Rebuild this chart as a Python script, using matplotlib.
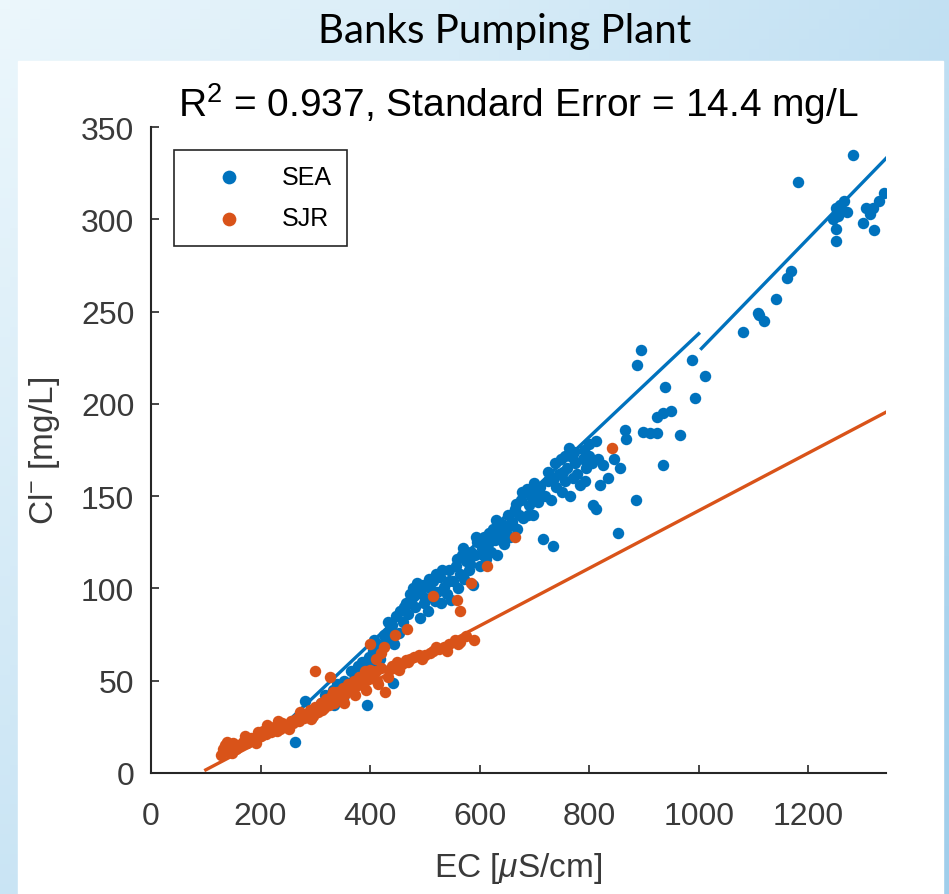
import numpy as np
import matplotlib
matplotlib.use("Agg")
import matplotlib.pyplot as plt
from matplotlib.patches import Rectangle

plt.rcParams['font.family'] = ['Liberation Sans', 'DejaVu Sans']
plt.rcParams['mathtext.fontset'] = 'custom'
plt.rcParams['mathtext.rm'] = 'Liberation Sans'
plt.rcParams['mathtext.it'] = 'Liberation Sans:italic'

# SEA points (EC uS/cm, Cl- mg/L)
sea_ec = [263, 281, 292, 300, 310, 318, 325, 332, 340, 345, 352, 358, 365, 372, 378,
          385, 390, 394, 398, 405, 410, 415, 420, 425, 430, 436, 442, 440, 448, 452,
          455, 460, 465, 470, 475, 478, 482, 488, 492, 496, 500, 505, 510, 514, 518,
          522, 527, 530, 535, 540, 545, 548, 552, 556, 560, 565, 568, 572, 576, 580,
          584, 588, 592, 596, 600, 604, 608, 612, 616, 620, 624, 628, 632, 636, 640,
          644, 648, 652, 656, 660, 664, 668, 672, 676, 680, 686, 690, 694, 698, 702,
          706, 710, 715, 720, 725, 730, 734, 736, 740, 745, 748, 750, 755, 756, 760,
          764, 765, 770, 772, 775, 783, 788, 790, 795, 800, 800, 807, 812, 813, 819,
          825, 835, 845, 852, 856, 865, 868, 886, 887, 895, 898, 911, 923, 923, 934,
          934, 938, 950, 965, 987, 994, 1011, 1080, 1108, 1111, 1120, 1142, 1162, 1169,
          1181, 1245, 1250, 1251, 1251, 1255, 1258, 1262, 1265, 1270, 1282, 1300, 1306,
          1312, 1318, 1321, 1330, 1339,
          462, 472, 486, 498, 508, 520, 532, 544, 558, 570, 582, 594, 606, 618, 630,
          642, 654, 666, 678, 688, 700, 712, 724, 738, 752, 768, 778, 792, 805, 816,
          380, 395, 408, 418, 432, 444, 350, 335, 368, 403]
sea_cl = [17, 39, 30, 35, 38, 42, 40, 45, 48, 44, 50, 47, 55, 52, 58,
          60, 55, 37, 63, 66, 60, 70, 68, 75, 72, 78, 49, 80, 85, 76,
          88, 82, 92, 86, 95, 100, 90, 98, 84, 102, 95, 88, 100, 104, 93,
          98, 106, 92, 101, 97, 110, 94, 104, 112, 100, 108, 118, 105, 115, 110,
          120, 102, 118, 125, 112, 122, 128, 116, 124, 120, 132, 126, 118, 130, 135,
          124, 132, 140, 128, 136, 143, 132, 140, 148, 138, 154, 145, 150, 140, 152,
          147, 155, 127, 150, 158, 148, 123, 160, 155, 162, 170, 152, 158, 172, 165,
          176, 150, 160, 174, 168, 156, 170, 175, 165, 172, 178, 145, 180, 143, 156,
          167, 160, 170, 130, 165, 186, 181, 148, 221, 229, 185, 184, 184, 193, 195,
          167, 209, 196, 183, 224, 203, 215, 239, 249, 248, 245, 257, 268, 272,
          320, 300, 306, 295, 288, 302, 308, 305, 310, 304, 335, 298, 306,
          303, 306, 294, 310, 314,
          90, 97, 103, 92, 105, 108, 110, 104, 116, 122, 113, 128, 118, 130, 137,
          128, 134, 146, 152, 140, 157, 150, 163, 168, 163, 171, 162, 158, 168, 170,
          48, 58, 72, 62, 82, 70, 40, 37, 50, 55]

# SJR points
sjr_ec = [128, 131, 135, 140, 145, 150, 155, 160, 168, 175, 182, 188, 195, 200, 205,
          210, 215, 220, 225, 230, 235, 240, 245, 250, 255, 260, 265, 270, 275, 280,
          285, 290, 295, 299, 300, 305, 310, 315, 320, 325, 327, 330, 335, 340, 345,
          350, 355, 360, 365, 370, 375, 380, 385, 390, 395, 400, 405, 410, 415, 420,
          428, 435, 440, 445, 450, 458, 465, 472, 480, 490, 500, 510, 515, 525, 535,
          545, 555, 565, 575, 467, 515, 558, 564, 585, 613, 664, 841, 400, 420, 445,
          138, 148, 172, 192, 212, 232, 252, 272, 292, 312, 332, 352, 372, 392, 412,
          432, 452, 470, 495, 520, 540, 560, 590, 410, 425]
sjr_cl = [10, 13, 15, 12, 14, 16, 13, 15, 17, 16, 19, 18, 22, 20, 23,
          21, 24, 22, 25, 23, 24, 27, 25, 26, 28, 27, 29, 28, 31, 30,
          32, 34, 31, 55, 36, 33, 38, 35, 40, 37, 52, 42, 38, 44, 41,
          46, 43, 48, 45, 50, 47, 52, 49, 55, 51, 56, 53, 55, 48, 57,
          44, 56, 58, 57, 60, 59, 61, 62, 63, 64, 64, 65, 66, 67, 68,
          70, 72, 71, 74, 78, 96, 94, 88, 103, 112, 128, 176, 70, 65, 75,
          17, 11, 20, 16, 26, 28, 24, 33, 29, 34, 44, 38, 42, 45, 50,
          52, 56, 60, 62, 68, 66, 70, 72, 62, 68]

# fitted lines (end points)
sea_fit1_ec = [250, 1000]
sea_fit1_cl = [28, 238]
sea_fit2_ec = [1005, 1342]
sea_fit2_cl = [230, 333]
sjr_fit_ec = [100, 1342]
sjr_fit_cl = [1.7, 195.5]

blue = '#0072BD'
orange = '#D95319'
txt = '#3a3a3a'

fig = plt.figure(figsize=(9.49, 8.95), dpi=100)

# slide background
bg = fig.add_axes([0, 0, 1, 1])
bg.axis('off')
u = np.linspace(0, 1, 95)[None, :]
v = np.linspace(0, 1, 90)[:, None]
t = 0.55 * u + 0.45 * v
c0 = np.array([236, 247, 252]) / 255
c1 = np.array([160, 206, 235]) / 255
img = c0 + (c1 - c0) * t[..., None]
bg.imshow(img, extent=[0, 1, 0, 1], aspect='auto')
bg.set_xlim(0, 1)
bg.set_ylim(0, 1)
bg.add_patch(Rectangle((18 / 949, 0), (943 - 18) / 949, 1 - 62 / 895, color='white'))
fig.text(505 / 949, 1 - 31 / 895, 'Banks Pumping Plant', ha='center', va='center',
         fontsize=29, family='Lato', color='black')

ax = fig.add_axes([151 / 949, 1 - 774 / 895, 735 / 949, 646 / 895])
ax.patch.set_alpha(0)
ax.scatter(sea_ec, sea_cl, s=68, color=blue, label='SEA', zorder=2, linewidths=0)
ax.plot(sea_fit1_ec, sea_fit1_cl, color=blue, lw=2.4, zorder=3)
ax.plot(sea_fit2_ec, sea_fit2_cl, color=blue, lw=2.4, zorder=3)
ax.scatter(sjr_ec, sjr_cl, s=68, color=orange, label='SJR', zorder=4, linewidths=0)
ax.plot(sjr_fit_ec, sjr_fit_cl, color=orange, lw=2.4, zorder=5)

ax.set_xlim(0, 1342)
ax.set_ylim(0, 350)
ax.set_xticks([0, 200, 400, 600, 800, 1000, 1200])
ax.set_yticks([0, 50, 100, 150, 200, 250, 300, 350])
for s in ['top', 'right']:
    ax.spines[s].set_visible(False)
for s in ['left', 'bottom']:
    ax.spines[s].set_color('#262626')
    ax.spines[s].set_linewidth(1.5)
ax.tick_params(direction='in', length=6, width=1.2, labelsize=23, labelcolor=txt,
               color='#262626')
ax.tick_params(axis='x', pad=20)
ax.tick_params(axis='y', pad=12)

ax.set_title('R$^2$ = 0.937, Standard Error = 14.4 mg/L', fontsize=28, color='black', pad=8)
ax.set_xlabel('EC [$\\mu$S/cm]', fontsize=24, color=txt, labelpad=14)
ax.set_ylabel('Cl$^{-}$ [mg/L]', fontsize=24, color=txt, labelpad=14)

leg = ax.legend(loc='upper left', bbox_to_anchor=(23 / 735, (774 - 151) / 646),
                borderaxespad=0, fancybox=False, edgecolor='#262626', framealpha=1,
                fontsize=18, handletextpad=0.5, borderpad=0.6, labelspacing=0.7,
                scatterpoints=1, handlelength=3.2, markerscale=1.2)
leg.get_frame().set_linewidth(1.2)

fig.savefig('out.png', dpi=100)
